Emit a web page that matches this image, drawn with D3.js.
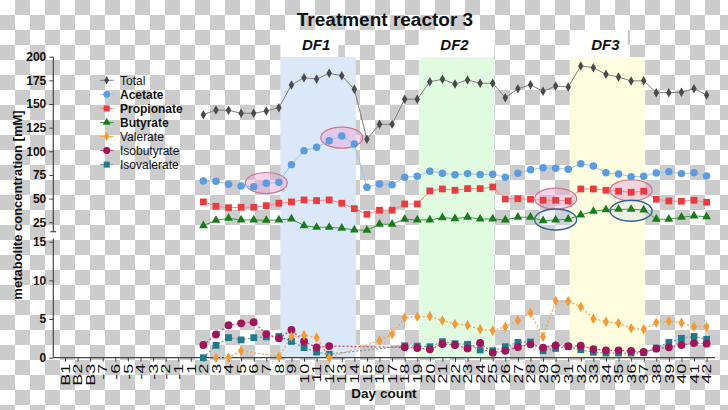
<!DOCTYPE html>
<html><head><meta charset="utf-8">
<script src="https://cdn.jsdelivr.net/npm/d3@7"></script>
<style>
body{margin:0;background:#fff;}
svg{display:block;font-family:"Liberation Sans",Arial,sans-serif;}
</style>
</head><body>
<svg id="chart" width="728" height="410"></svg>
<script>
// ---------------- data ----------------
const categories = ["B1","B2","B3","-7","-6","-5","-4","-3","-2","-1","1","2","3","4","5","6","7","8","9","10",
  "11","12","13","14","15","16","17","18","19","20","21","22","23","24","25","26","27","28","29","30",
  "31","32","33","34","35","36","37","38","39","40","41","42"];
const dataDays = ["2","3","4","5","6","7","8","9","10","11","12","13","14","15","16","17","18","19","20","21",
  "22","23","24","25","26","27","28","29","30","31","32","33","34","35","36","37","38","39","40","41","42"];

const total = [138.7,143.7,143.3,140.2,140.2,142.6,146.1,170.1,177.8,176.4,182.4,179.9,165.5,112.7,128.6,128.6,155,155,173.6,176.1,
  171.2,175.4,171.9,171.9,156.7,166.2,170.4,163.4,169,168,190.2,188.4,181.4,178.5,174.3,174.6,162,162,162.4,166.2,159.5];
const acetate = [68.6,68.3,65.2,63.4,62.6,66.2,67.3,85.9,100.7,104.2,111.2,116.2,107.7,62,65.5,64.7,72.6,73.6,78.9,76.8,
  75.3,76.4,75.4,75.7,72.6,76.8,80.6,82.7,82,81,86.9,84.5,77.4,76,73.2,73.6,77.1,78.5,76.4,77.4,73.9];
const propionate = [46.5,41.9,40.4,40.8,40.8,42.5,45.1,46.5,48.6,47.9,48.6,45.1,39.4,33.5,37.7,37.7,44.3,44.3,58.1,60.2,
  58.8,60.5,60.5,62.3,49.6,49.9,49.3,48.2,48.2,47.5,60.2,60.2,58.8,57.8,56.7,57.8,49.3,47.5,47.2,48.2,46.1];
const butyrate = [21.4,27.1,29.2,27.4,27.4,27.1,27.4,28.5,21.4,19.7,19.7,18.7,16.9,16.5,22.9,22.9,28.2,27.4,27.4,29.9,
  28.8,30.3,28.4,28.5,27.4,30.3,30.3,26.7,27.4,28.2,32.7,36.6,38.3,38.7,38.7,38.0,28.2,28.2,30.3,31.7,30.9];
const valerate = [null,0,0,0.9,null,null,0.15,2.75,2.9,2.6,0,null,null,null,2.2,3.05,5.17,5.3,5.35,4.8,
  4.36,4.19,3.67,3.5,4.0,4.8,5.8,2.7,7.33,7.29,6.6,5.05,4.66,4.45,3.8,3.67,4.53,4.7,4.53,4.0,4.0];
const isobutyrate = [1.64,3.0,4.2,4.45,4.6,3.06,2.5,3.58,2.1,1.34,1.5,null,null,null,null,null,1.34,1.25,1.08,1.77,
  1.64,1.2,1.9,0.65,0.9,1.38,1.73,1.3,1.6,1.5,1.55,1.12,0.95,0.95,0.87,0.74,1.17,1.34,1.64,1.9,1.81];
const isovalerate = [0,1.6,2.6,2.3,2.6,2.7,2.75,2.1,1.3,0.72,0.45,null,null,null,null,null,1.55,1.5,1.42,2.07,
  1.81,1.73,1.0,0.9,1.42,1.99,2.03,0.9,1.2,1.42,1.03,0.7,0.6,0.6,0.6,0.65,1.25,1.99,2.5,2.76,2.38];

const upperTicks = [25,50,75,100,125,150,175,200];
const lowerTicks = [0,5,10,15];
const seriesNames = ["Total","Acetate","Propionate","Butyrate","Valerate","Isobutyrate","Isovalerate"];
const regionLabels = ["DF1","DF2","DF3"];
const regionFrom = ["8","19","31"];
const regionTo = ["14","25","37"];
// highlight ellipses: day, value (upper axis)
const ellipseDays = ["7","13","30","30","36","36"];
const ellipseValues = [66.5,114.4,49.9,27.9,58.8,37.1];
const ellipseKinds = ["pink","pink","pink","blue","pink","blue"];

// ---------------- styles ----------------
const W = 728, H = 410;
const styles = {
  Total:       {values: total, axis: "upper", line: "#808080", dash: null, marker: "diamond", fill: "#4a4a4a", size: 26, bold: false},
  Acetate:     {values: acetate, axis: "upper", line: "#9cc4ee", dash: null, marker: "circle", fill: "#5b9be0", size: 44, bold: true},
  Propionate:  {values: propionate, axis: "upper", line: "#f08c8c", dash: null, marker: "square", fill: "#ec3b3f", size: 46, bold: true},
  Butyrate:    {values: butyrate, axis: "upper", line: "#3f9a3f", dash: null, marker: "triangle", fill: "#1b7a1b", size: 34, bold: true},
  Valerate:    {values: valerate, axis: "lower", line: "#f5a650", dash: "2,2", marker: "diamond", fill: "#f39a36", size: 32, bold: false},
  Isobutyrate: {values: isobutyrate, axis: "lower", line: "#c4507f", dash: "2,2", marker: "circle", fill: "#a2145a", size: 48, bold: false},
  Isovalerate: {values: isovalerate, axis: "lower", line: "#7f9aa6", dash: "2,2", marker: "square", fill: "#1f7a8c", size: 46, bold: false}
};
const symbolTypes = {diamond: d3.symbolDiamond, circle: d3.symbolCircle, square: d3.symbolSquare, triangle: d3.symbolTriangle};

const svg = d3.select("#chart");

// checkerboard background (transparent PNG look)
const defs = svg.append("defs");
const pat = defs.append("pattern").attr("id","checker").attr("patternUnits","userSpaceOnUse")
  .attr("width",30).attr("height",30);
pat.append("rect").attr("width",30).attr("height",30).attr("fill","#ffffff");
pat.append("rect").attr("x",15).attr("y",0).attr("width",15).attr("height",15).attr("fill","#cccccc");
pat.append("rect").attr("x",0).attr("y",15).attr("width",15).attr("height",15).attr("fill","#cccccc");
svg.append("rect").attr("width",W).attr("height",H).attr("fill","url(#checker)");

// scales
const x = d3.scalePoint().domain(categories).range([65, 706.6]);
const yUpper = d3.scaleLinear().domain([15, 200]).range([231.7, 56.7]);
const yLower = d3.scaleLinear().domain([0, 15]).range([357.7, 241.7]);
const axisX = 53.3, plotTop = 57, plotRight = 715;

// shaded regions
regionLabels.forEach((lab, i) => {
  const colors = ["#dae8fa", "#e0fbe0", "#fefddf"];
  const x0 = x(regionFrom[i]) + 1.5, x1 = x(regionTo[i]) + 1.5;
  svg.append("rect").attr("x", x0).attr("y", plotTop).attr("width", x1 - x0)
    .attr("height", yLower(0) - plotTop).attr("fill", colors[i]);
  const bw = i === 1 ? (x1 - x0) : 58;
  svg.append("rect").attr("x", x0).attr("y", 30).attr("width", bw).attr("height", plotTop - 30).attr("fill", "#ffffff");
  svg.append("text").attr("x", (x0 + x1) / 2 - 2).attr("y", 49.5).attr("text-anchor","middle")
    .attr("font-size", 15).attr("font-weight","bold").attr("font-style","italic").attr("fill","#111")
    .text(lab);
});

// title
svg.append("text").attr("x", 385).attr("y", 25.5).attr("text-anchor","middle")
  .attr("font-size", 19).attr("font-weight","bold").attr("fill","#111").text("Treatment reactor 3");

// axes
const gx = svg.append("g").attr("transform", `translate(0,${yLower(0)})`)
  .call(d3.axisBottom(x).tickSize(4).tickSizeOuter(0));
gx.select(".domain").remove();
gx.selectAll(".tick line").attr("stroke","#444");
gx.selectAll(".tick text").attr("x",0).attr("y",0).attr("dy","0.35em")
  .attr("text-anchor","end").attr("font-size",12).attr("fill","#111")
  .attr("font-family","Liberation Sans, Arial, sans-serif")
  .attr("transform","translate(0,6) rotate(-90) scale(1.5,1)");
svg.append("line").attr("x1", axisX).attr("x2", plotRight).attr("y1", yLower(0)).attr("y2", yLower(0))
  .attr("stroke","#444").attr("stroke-width",1.2);

const gyU = svg.append("g").attr("transform", `translate(${axisX},0)`)
  .call(d3.axisLeft(yUpper).tickValues(upperTicks).tickSize(4).tickSizeOuter(0));
const gyL = svg.append("g").attr("transform", `translate(${axisX},0)`)
  .call(d3.axisLeft(yLower).tickValues(lowerTicks).tickSize(4).tickSizeOuter(0));
[gyU, gyL].forEach(g => {
  g.select(".domain").remove();
  g.selectAll(".tick line").attr("stroke","#444");
  g.selectAll(".tick text").attr("font-size",12).attr("font-weight","bold").attr("fill","#111")
    .attr("font-family","Liberation Sans, Arial, sans-serif");
});
svg.append("line").attr("x1",axisX).attr("x2",axisX).attr("y1",yUpper(200)).attr("y2",yUpper(15))
  .attr("stroke","#444").attr("stroke-width",1.2);
svg.append("line").attr("x1",axisX-2.8).attr("x2",axisX+2.8).attr("y1",yUpper(15)).attr("y2",yUpper(15))
  .attr("stroke","#444").attr("stroke-width",1.2);
svg.append("line").attr("x1",axisX).attr("x2",axisX).attr("y1",yLower(15)-3).attr("y2",yLower(0))
  .attr("stroke","#444").attr("stroke-width",1.2);

// axis titles
svg.append("text").attr("transform","translate(21.5,205) rotate(-90)").attr("text-anchor","middle")
  .attr("font-size",13).attr("font-weight","bold").attr("fill","#111").text("metabolite concentration [mM]");
svg.append("text").attr("x",384).attr("y",398).attr("text-anchor","middle")
  .attr("font-size",13.5).attr("font-weight","bold").attr("fill","#111").text("Day count");

// highlight ellipses
ellipseDays.forEach((d, i) => {
  const pink = ellipseKinds[i] === "pink";
  svg.append("ellipse").attr("cx", x(d)).attr("cy", yUpper(ellipseValues[i])).attr("rx", 21).attr("ry", 10.5)
    .attr("fill", pink ? "rgba(236,170,215,0.5)" : "rgba(205,222,240,0.35)")
    .attr("stroke", pink ? "#c9788f" : "#35618f").attr("stroke-width", pink ? 1.2 : 1.4);
});

// series
const order = ["Isovalerate","Isobutyrate","Valerate","Butyrate","Propionate","Acetate","Total"];
order.forEach(name => {
  const s = styles[name];
  const y = s.axis === "upper" ? yUpper : yLower;
  const pts = dataDays.map((d, i) => ({d, v: s.values[i]})).filter(p => p.v !== null);
  const line = d3.line().x(p => x(p.d)).y(p => y(p.v));
  svg.append("path").datum(pts).attr("d", line).attr("fill","none")
    .attr("stroke", s.line).attr("stroke-width", s.dash ? 1.3 : 1)
    .attr("stroke-dasharray", s.dash);
  svg.append("g").selectAll("path").data(pts).join("path")
    .attr("transform", p => `translate(${x(p.d)},${y(p.v)})`)
    .attr("d", d3.symbol().type(symbolTypes[s.marker]).size(s.size))
    .attr("fill", s.fill);
});

// legend
const lg = svg.append("g");
seriesNames.forEach((name, i) => {
  const s = styles[name];
  const yy = 80.3 + i * 14.05;
  lg.append("line").attr("x1",100).attr("x2",113.5).attr("y1",yy).attr("y2",yy)
    .attr("stroke", s.line).attr("stroke-width",1);
  lg.append("path").attr("transform",`translate(106.7,${yy})`)
    .attr("d", d3.symbol().type(symbolTypes[s.marker]).size(s.size * 0.8)).attr("fill", s.fill);
  lg.append("text").attr("x",120).attr("y",yy).attr("dy","0.36em").attr("font-size",12)
    .attr("font-weight", s.bold ? "bold" : "normal").attr("fill","#111").text(name);
});
</script>
</body></html>
